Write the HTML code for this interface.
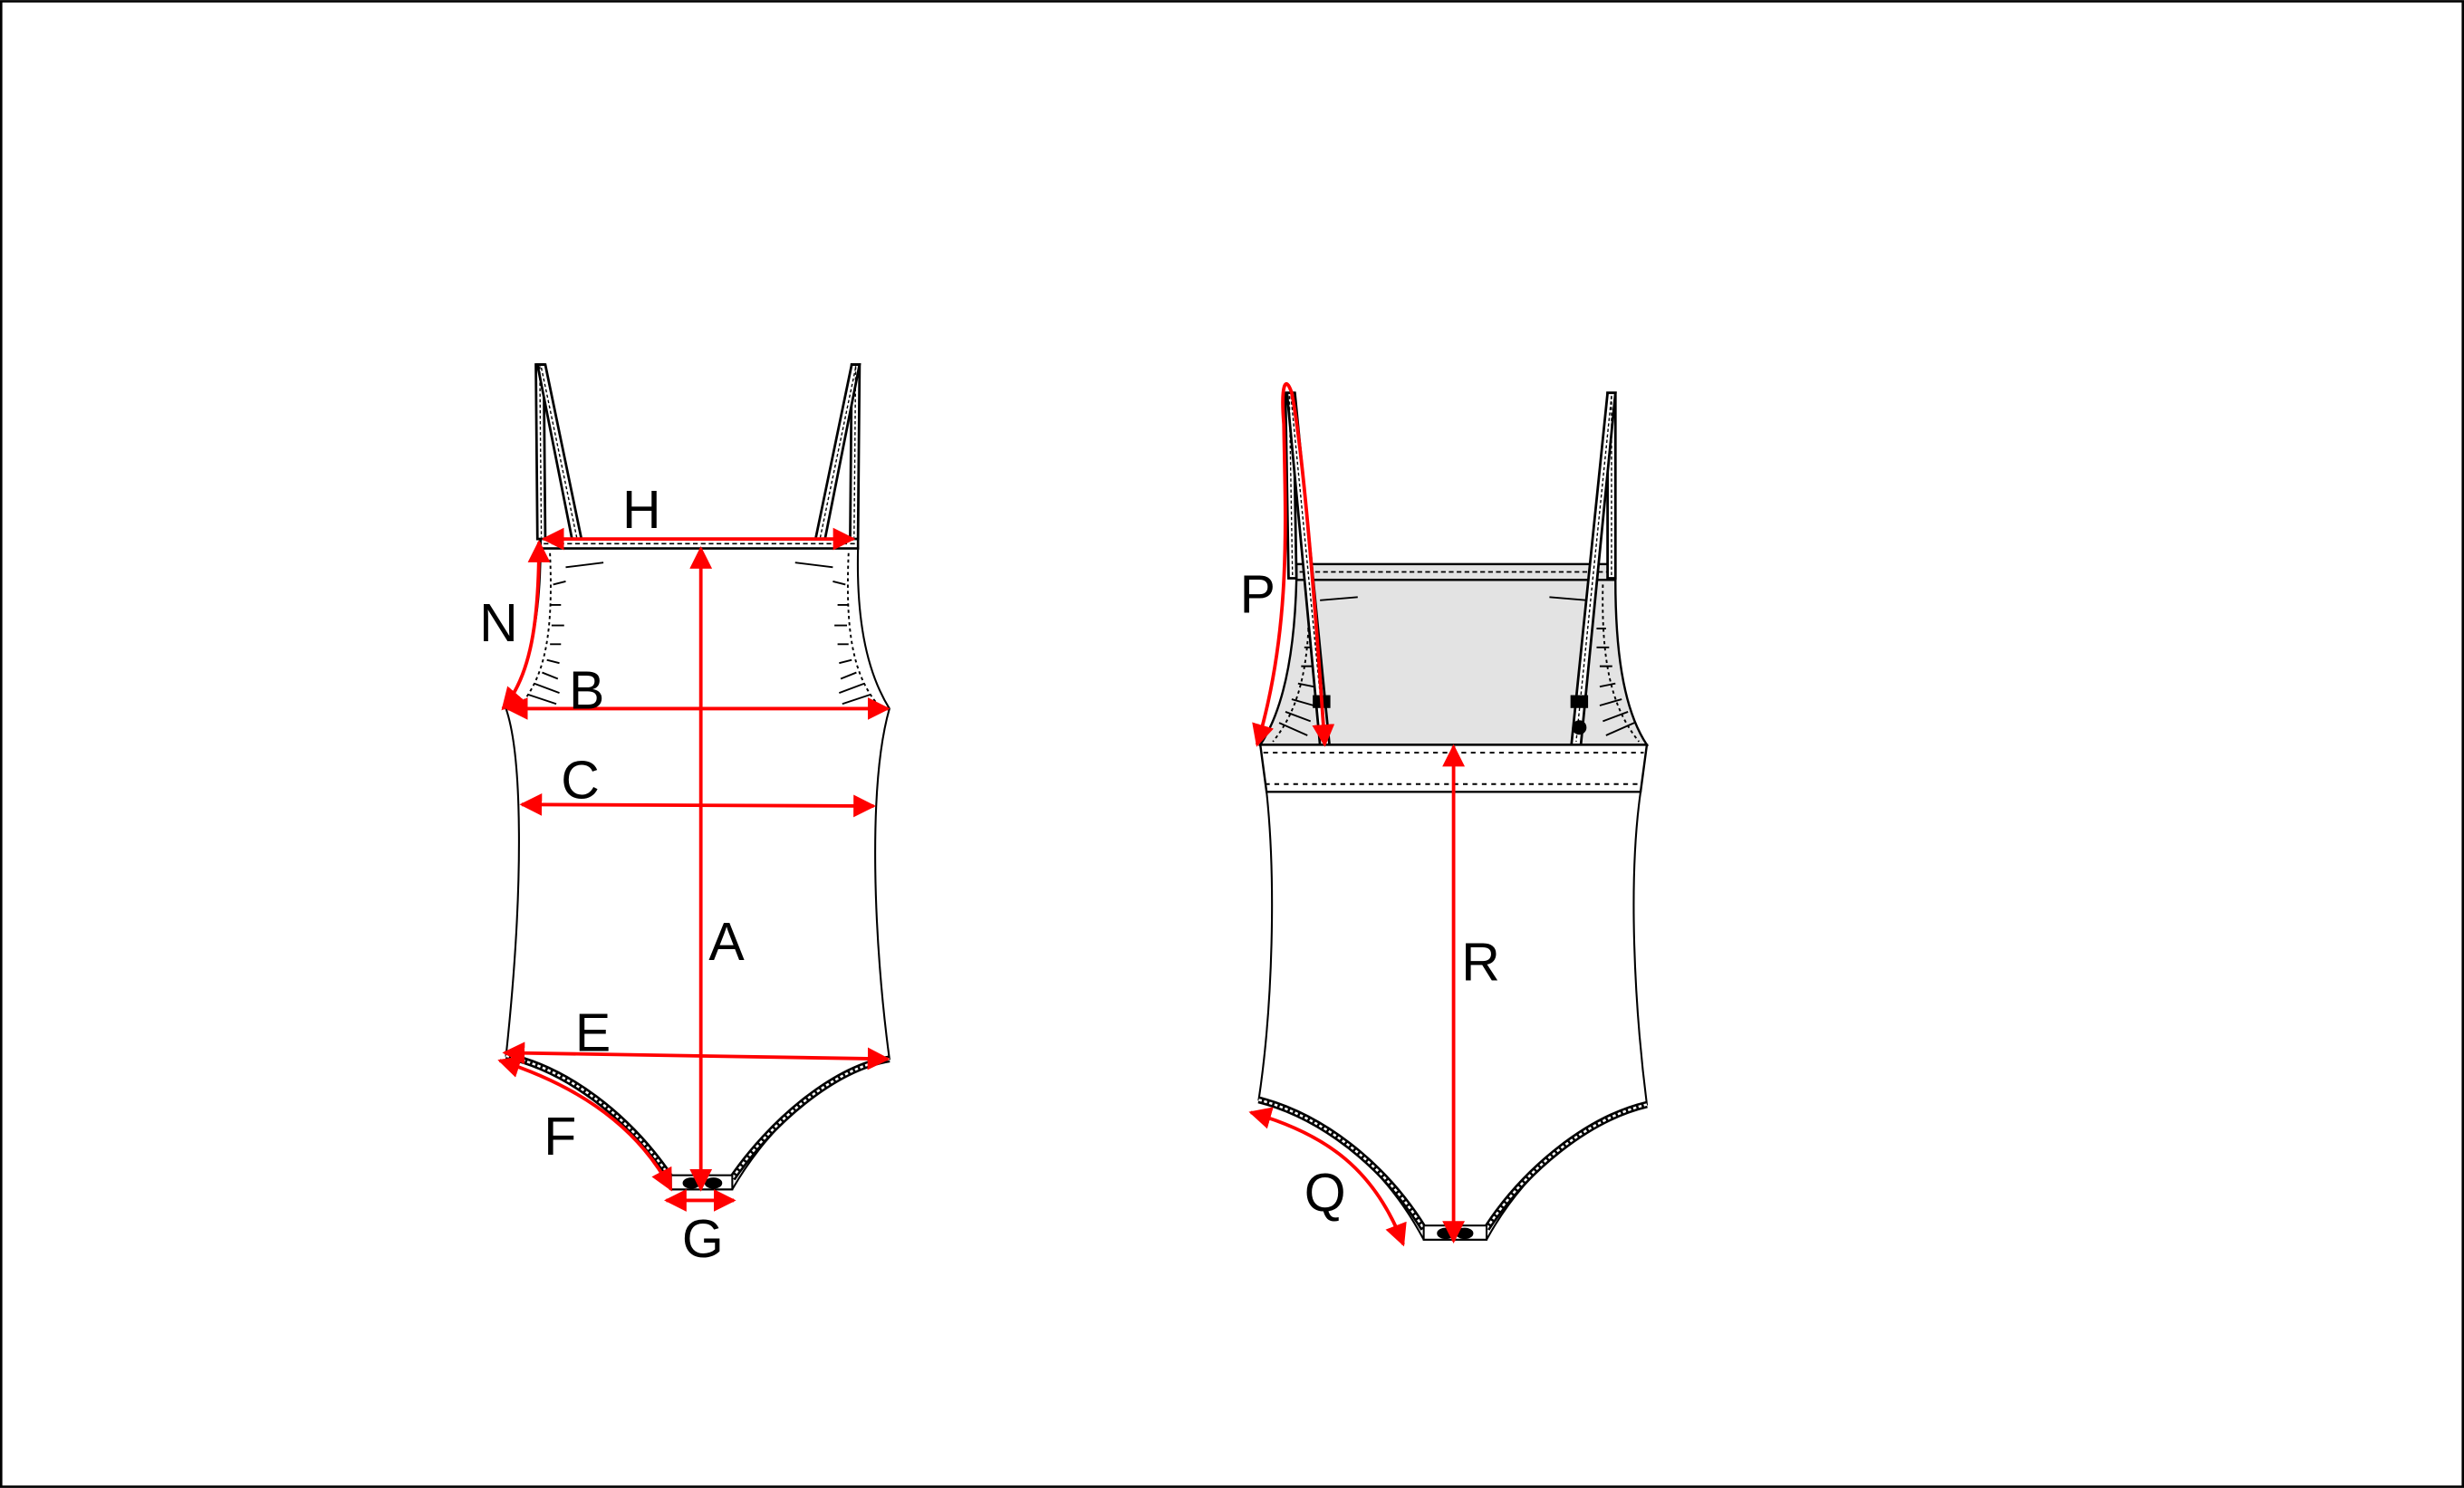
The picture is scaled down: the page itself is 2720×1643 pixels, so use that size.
<!DOCTYPE html>
<html><head><meta charset="utf-8"><style>
html,body{margin:0;padding:0;background:#fff;width:2720px;height:1643px;overflow:hidden}
svg{display:block}
text{font-family:"Liberation Sans",Arial,sans-serif;font-size:34px;fill:#000}
</style></head><body>
<svg width="2720" height="1643" viewBox="0 0 1568 947" xmlns="http://www.w3.org/2000/svg">
<defs>
<marker id="ah" viewBox="0 0 10 10" refX="9" refY="5" markerWidth="6.5" markerHeight="6.5" orient="auto-start-reverse" markerUnits="strokeWidth">
<path d="M0,0 L10,5 L0,10 z" fill="#f00"/></marker>
</defs>
<rect x="0.75" y="0.75" width="1566.5" height="945.5" fill="#fff" stroke="#000" stroke-width="1.5"/>

<!-- LEFT GARMENT -->
<g stroke="#000" fill="#fff" stroke-width="1.2">
<g stroke-width="1.6">
<polygon points="341,232 346,232 347,343 342,343"/>
<polygon points="342,232 347,232 370,343 364,343"/>
<polygon points="542,232 547,232 546,343 541,343"/>
<polygon points="542,232 547,232 525,343 519,343"/>
</g>
<line x1="343.5" y1="233" x2="344.5" y2="342" stroke-dasharray="2,1.5" stroke-width="0.8"/>
<line x1="344.5" y1="234" x2="367" y2="342" stroke-dasharray="2,1.5" stroke-width="0.8"/>
<line x1="544.5" y1="233" x2="543.5" y2="342" stroke-dasharray="2,1.5" stroke-width="0.8"/>
<line x1="544.5" y1="234" x2="522" y2="342" stroke-dasharray="2,1.5" stroke-width="0.8"/>
<path d="M344,349 C344,390 338,425 322,451 C332,480 334,560 322,672 C360,680 400,710 427,757 L466,757 C490,715 530,680 566,674 C556,600 552,500 566,451 C550,425 545,390 546,349 Z"/>
<rect x="344" y="343" width="202" height="6" stroke-width="1.5"/>
<line x1="346" y1="346" x2="544" y2="346" stroke-dasharray="3,2" stroke-width="0.9"/>
<path d="M322,672 C360,680 400,710 427,750" fill="none" stroke-width="4.5"/>
<path d="M322,672 C360,680 400,710 427,750" fill="none" stroke="#fff" stroke-width="1.5" stroke-dasharray="2,1.5"/>
<path d="M566,674 C530,680 490,715 466,750" fill="none" stroke-width="4.5"/>
<path d="M566,674 C530,680 490,715 466,750" fill="none" stroke="#fff" stroke-width="1.5" stroke-dasharray="2,1.5"/>
<rect x="427" y="748" width="39" height="9"/>
<ellipse cx="440" cy="753" rx="5" ry="3" fill="#000"/><ellipse cx="454" cy="753" rx="5" ry="3" fill="#000"/>
<g fill="none" stroke-width="1.1">
<path d="M350,352 C352,400 348,430 330,450" stroke-dasharray="2,2"/>
<path d="M540,352 C538,400 542,430 560,450" stroke-dasharray="2,2"/>
<line x1="360" y1="361" x2="384" y2="358"/><line x1="506" y1="358" x2="530" y2="361"/>
<path d="M352,372 l8,-2 M350,385 l7,0 M351,398 l8,0 M350,410 l7,0 M348,420 l8,2 M345,428 l10,4 M340,435 l16,6 M336,442 l18,6"/>
<path d="M538,372 l-8,-2 M540,385 l-7,0 M539,398 l-8,0 M540,410 l-7,0 M542,420 l-8,2 M545,428 l-10,4 M550,435 l-16,6 M554,442 l-18,6"/>
</g>
</g>
<g stroke="#f00" stroke-width="2.2" fill="none" marker-start="url(#ah)" marker-end="url(#ah)">
<line x1="346" y1="343" x2="543" y2="343"/>
<line x1="446" y1="349" x2="446" y2="757"/>
<path d="M343,345 C343,395 338,430 320,451"/>
<line x1="323" y1="451" x2="565" y2="451"/>
<line x1="332" y1="512" x2="556" y2="513"/>
<line x1="321" y1="670" x2="565" y2="674"/>
<path d="M318,675 C365,690 405,715 427,757"/>
<line x1="424" y1="764" x2="467" y2="764"/>
</g>
<text x="396" y="336">H</text>
<text x="305" y="408">N</text>
<text x="362" y="451">B</text>
<text x="357" y="508">C</text>
<text x="451" y="611">A</text>
<text x="366" y="669">E</text>
<text x="346" y="735">F</text>
<text x="434" y="800">G</text>

<!-- RIGHT GARMENT -->
<g stroke="#000" stroke-width="1.2">
<path d="M825,369 L1028,369 C1028,410 1032,450 1048,474 L802,474 C818,450 824,410 825,369 Z" fill="#e3e3e3" stroke-width="1.4"/>
<rect x="825" y="359" width="203" height="10" fill="#e3e3e3" stroke-width="1.4"/>
<line x1="827" y1="364" x2="1026" y2="364" stroke-dasharray="3,2" stroke-width="1"/>
<g fill="none" stroke-width="1.1">
<path d="M833,372 C834,420 828,450 810,472" stroke-dasharray="2,2"/>
<path d="M1020,372 C1019,420 1025,450 1043,472" stroke-dasharray="2,2"/>
<line x1="840" y1="382" x2="864" y2="380"/><line x1="986" y1="380" x2="1010" y2="382"/>
<path d="M832,400 l6,0 M830,412 l8,0 M828,424 l8,0 M826,435 l10,2 M822,445 l14,4 M818,453 l16,6 M814,460 l18,8"/>
<path d="M1022,400 l-6,0 M1024,412 l-8,0 M1026,424 l-8,0 M1028,435 l-10,2 M1032,445 l-14,4 M1036,453 l-16,6 M1040,460 l-18,8"/>
</g>
<g stroke-width="1.6" fill="#fff">
<polygon points="818,250 823,250 825,368 820,368"/>
<polygon points="819,250 824,250 846,474 840,474"/>
<polygon points="1023,250 1028,250 1028,368 1023,368"/>
<polygon points="1023,250 1028,250 1006,474 1000,474"/>
</g>
<line x1="820.5" y1="252" x2="822.5" y2="366" stroke-dasharray="2,1.5" stroke-width="0.8"/>
<line x1="821.5" y1="252" x2="843" y2="472" stroke-dasharray="2,1.5" stroke-width="0.8"/>
<line x1="1025.5" y1="252" x2="1025.5" y2="366" stroke-dasharray="2,1.5" stroke-width="0.8"/>
<line x1="1025.5" y1="252" x2="1003" y2="472" stroke-dasharray="2,1.5" stroke-width="0.8"/>
<rect x="836" y="443" width="10" height="7" fill="#000"/>
<rect x="1000" y="443" width="10" height="7" fill="#000"/>
<circle cx="1005" cy="463" r="4" fill="#000"/>
<path d="M802,474 L1048,474 L1044,504 L806,504 Z" fill="#fff" stroke-width="1.4"/>
<line x1="804" y1="479" x2="1046" y2="479" stroke-dasharray="3,3" stroke-width="1.1"/>
<line x1="805" y1="499" x2="1045" y2="499" stroke-dasharray="3,3" stroke-width="1.1"/>
<path d="M806,504 C812,560 810,640 801,700 C840,710 880,740 906,789 L946,789 C970,745 1010,712 1048,703 C1040,640 1036,560 1044,504 Z" fill="#fff"/>
<path d="M801,700 C840,710 880,740 906,782" fill="none" stroke-width="4.5"/>
<path d="M801,700 C840,710 880,740 906,782" fill="none" stroke="#fff" stroke-width="1.5" stroke-dasharray="2,1.5"/>
<path d="M1048,703 C1010,712 970,745 946,782" fill="none" stroke-width="4.5"/>
<path d="M1048,703 C1010,712 970,745 946,782" fill="none" stroke="#fff" stroke-width="1.5" stroke-dasharray="2,1.5"/>
<rect x="906" y="780" width="40" height="9" fill="#fff"/>
<ellipse cx="920" cy="785" rx="5" ry="3" fill="#000"/><ellipse cx="932" cy="785" rx="5" ry="3" fill="#000"/>
</g>
<g stroke="#f00" stroke-width="2.2" fill="none">
<path d="M843,474 C838,400 830,290 822,250 C818,238 815,245 817,270 C818,330 822,400 800,474" marker-start="url(#ah)" marker-end="url(#ah)"/>
<line x1="925" y1="475" x2="925" y2="790" marker-start="url(#ah)" marker-end="url(#ah)"/>
<path d="M796,708 C845,722 875,745 893,792" marker-start="url(#ah)" marker-end="url(#ah)"/>
</g>
<text x="789" y="390">P</text>
<text x="930" y="624">R</text>
<text x="830" y="771">Q</text>
</svg>
</body></html>
